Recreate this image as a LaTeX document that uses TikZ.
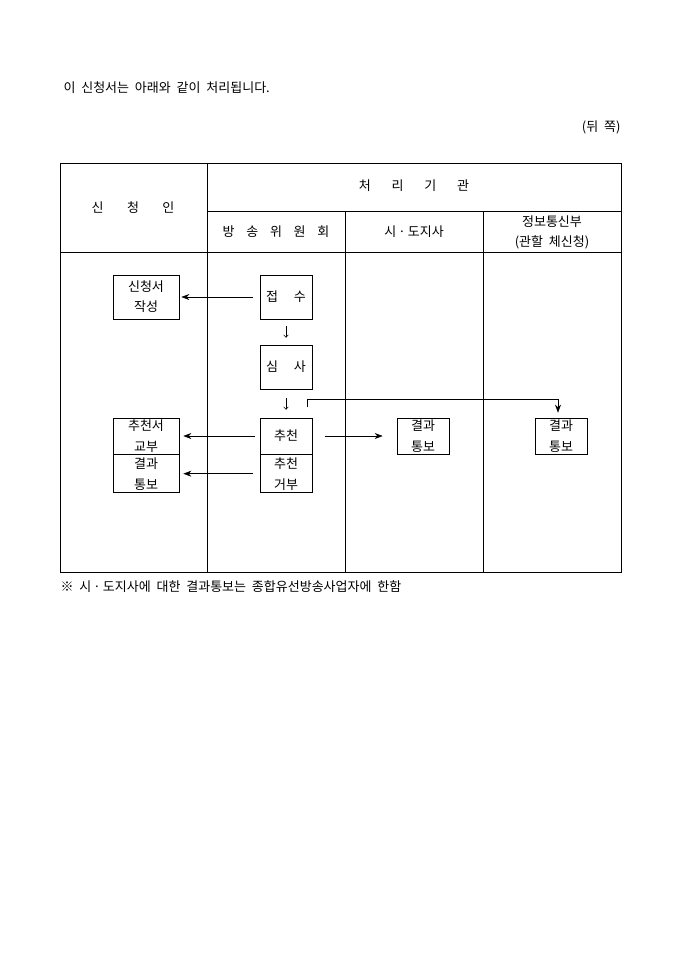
\documentclass[tikz,border=0pt]{standalone}
\usepackage{fontspec}
\setmainfont[WordSpace=2]{Noto Sans CJK KR}
\usetikzlibrary{arrows.meta,positioning}

\begin{document}
\begin{tikzpicture}[x=1pt,y=-1pt,>={Stealth[length=8pt,width=6pt]},font=\fontsize{13}{20}\selectfont,
  box/.style={draw,line width=0.7pt,minimum width=52pt,minimum height=44pt,inner sep=0pt,align=center},
  wide/.style={box,minimum width=66pt},
  half/.style={draw,line width=0.7pt,inner sep=0pt,align=center,font=\fontsize{13}{21}\selectfont},
  step arrow/.style={-{To[length=3pt,width=5pt]},line width=0.6pt},
  flow/.style={->,line width=0.6pt}]
  \useasboundingbox (0,0) rectangle (680,962);

  % notes
  \node[anchor=west] (intro) at (60,88) {이 신청서는 아래와 같이 처리됩니다.};
  \node[anchor=east] (side) at (624,127) {(뒤 쪽)};
  \node[anchor=west] (foot) at (57,587) {※ 시\,·\,도지사에 대한 결과통보는 종합유선방송사업자에 한함};

  % table
  \draw[line width=0.6pt] (60,163) rectangle (621,572);
  \draw[line width=0.6pt] (207,163) -- (207,572)
    (207,211) -- (621,211) (60,252) -- (621,252)
    (345,211) -- (345,572) (483,211) -- (483,572);
  \node (head)  at (133,208) {신\hspace{1.8em}청\hspace{1.8em}인};
  \node (org)   at (414,186) {처\hspace{1.6em}리\hspace{1.6em}기\hspace{1.6em}관};
  \node (kbc)   at (276,232) {방\hspace{0.9em}송\hspace{0.9em}위\hspace{0.9em}원\hspace{0.9em}회};
  \node (gov)   at (414,232) {시\,·\,도지사};
  \node[align=center] (mic head) at (552,232) {정보통신부\\(관할 체신청)};

  % boxes
  \node[wide] (apply)  at (146,297) {신청서\\작성};
  \node[box]  (recv)   at (286,297) {접\hspace{1.2em}수};
  \node[box]  (review) at (286,367) {심\hspace{1.2em}사};
  \node[half,minimum width=66pt,minimum height=36pt] (issue)  at (146,436) {추천서\\교부};
  \node[half,minimum width=66pt,minimum height=38pt,below=0pt of issue] (notify) {결과\\통보};
  \node[half,minimum width=52pt,minimum height=36pt] (rec)    at (286,436) {추천};
  \node[half,minimum width=52pt,minimum height=38pt,below=0pt of rec] (reject) {추천\\거부};
  \node[half,minimum width=52pt,minimum height=36pt] (city)   at (423,436) {결과\\통보};
  \node[half,minimum width=52pt,minimum height=36pt] (mic)    at (561,436) {결과\\통보};

  % arrows
  \draw[flow,shorten <=7pt,shorten >=2pt] (recv.west) -- (apply.east |- recv.west);
  \draw[step arrow,shorten <=7pt,shorten >=7pt] (recv) -- (review);
  \draw[step arrow,shorten <=9pt,shorten >=8pt] (review) -- (rec);
  \draw[flow,shorten <=5pt,shorten >=4pt] (rec.west) -- (issue.east);
  \draw[flow,shorten <=13pt,shorten >=14pt] (rec.east) -- (city.west);
  \draw[flow,shorten <=7pt,shorten >=4pt] (reject.west) -- (notify.east |- reject.west);
  \coordinate (branch) at (307,407);
  \draw[flow,shorten >=5pt] (branch) |- ++(0,-8) -| ([xshift=-3pt]mic.north);
\end{tikzpicture}
\end{document}
